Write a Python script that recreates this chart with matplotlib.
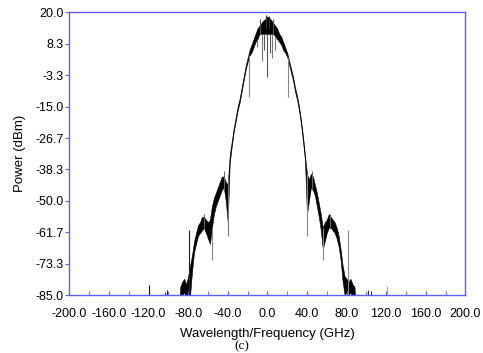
import matplotlib
matplotlib.use("Agg")
import matplotlib.pyplot as plt
import numpy as np

# spectrum, 2 GHz steps (upper / lower edge of the noisy trace)
freq = list(range(-90, 92, 2))
p_upper = [-95, -82, -80, -79, -81, -78, -74, -70, -65, -62,
           -59, -58, -56, -56, -57, -58, -57, -52, -49, -47,
           -45, -43, -41, -41, -43, -44, -33, -28, -23, -19,
           -15, -12, -8, -4, 0, 3, 6, 8, 10, 12,
           14, 15, 16, 17, 17.5, 18.5, 18, 17, 16, 15,
           14, 12, 11, 9, 7, 5, 2, -1, -4, -8,
           -11, -15, -20, -26, -33, -40, -42, -40, -41, -44,
           -47, -51, -55, -60, -58, -57, -55, -56, -57, -58,
           -60, -63, -68, -74, -78, -79, -80, -79, -81, -82, -95]
p_lower = [-95, -86, -85, -84, -86, -84, -85, -76, -69, -66,
           -63, -62, -61, -60, -62, -64, -66, -60, -55, -52,
           -50, -48, -46, -45, -50, -58, -36, -30, -24.5, -20.5,
           -16.5, -13.5, -9.5, -5.5, -1.5, 1.5, 4, 5, 7, 9,
           10, 12, 12, 12, 12, 12, 12, 12, 12, 11,
           10, 9, 8, 6, 5, 3.5, 0.5, -2.5, -5.5, -9.5,
           -12.5, -16.5, -21.5, -28, -35, -55, -50, -45, -46, -48,
           -52, -56, -61, -68, -65, -62, -60, -60, -61, -62,
           -64, -67, -72, -80, -85, -84, -85, -84, -86, -86, -95]

# single-sample spikes: frequency, low end, high end
spike_f = [0, -5.7, 4.4, -3, 2.5, 8, -10, -18.2, 20.5, -39.5, 39.8,
           -56.2, 56.6, -78.8, 81.2, -119.3, 120.6, -101, -103, 102, 104.5,
           -44, 45, -64, 63, -1, 1.5, -7, 6]
spike_lo = [-4, 2, 3, 6, 5, 6, 7, -11.3, -11.3, -63, -63,
            -72, -72, -85, -85, -85, -85, -85, -85, -85, -85,
            -46, -46, -60, -60, 14, 14, 12, 12]
spike_hi = [12, 12, 12, 12, 12, 11, 10, 4, 3, -42, -40,
            -60, -60, -61, -61, -81.3, -81.5, -83, -84, -83, -83.5,
            -39, -39, -55, -55, 19, 18.6, 17.5, 17.5]
spike_col = ['#555555', '#777777', '#777777', '#555555', '#555555', '#777777', '#777777',
             '#888888', '#888888', '#777777', '#888888', '#888888', '#888888',
             '#222222', '#888888', '#111111', '#aaaaaa', '#222222', '#222222', '#333333', '#333333',
             '#666666', '#666666', '#666666', '#666666', '#333333', '#333333', '#555555', '#555555']

yticks = [20.0, 8.3, -3.3, -15.0, -26.7, -38.3, -50.0, -61.7, -73.3, -85.0]
xticks = [-200, -160, -120, -80, -40, 0, 40, 80, 120, 160, 200]

blue = '#5c5cff'
plt.rcParams['font.family'] = ['Liberation Sans', 'DejaVu Sans']

fig = plt.figure(figsize=(4.83, 3.53), dpi=100)
ax = fig.add_axes([0.1435, 0.1643, 0.82, 0.8007])

ax.fill_between(freq, p_lower, p_upper, color='black', linewidth=0.4, edgecolor='black')
ax.vlines(spike_f, spike_lo, spike_hi, colors=spike_col, linewidth=0.8)

ax.set_xlim(-200, 200)
ax.set_ylim(-85, 20)
ax.set_xticks(xticks)
ax.set_xticklabels([f"{v:.1f}" for v in xticks])
ax.set_xticks(list(range(-180, 200, 40)), minor=True)
ax.set_yticks(yticks)
ax.set_yticklabels([f"{v:.1f}" for v in yticks])

for s in ax.spines.values():
    s.set_color(blue)
    s.set_linewidth(1.0)
ax.tick_params(axis='x', which='both', direction='in', length=3, color=blue, labelsize=9, pad=9)
ax.tick_params(axis='y', direction='out', length=3, color=blue, labelsize=9, pad=1)

ax.set_xlabel("Wavelength/Frequency (GHz)", fontsize=9.5, labelpad=6)
ax.set_ylabel("Power (dBm)", fontsize=9.5, labelpad=7)
fig.text(0.5, 0.003, "(c)", ha='center', va='bottom', fontsize=9.5, family='Liberation Serif')

fig.savefig("out.png", dpi=100)
